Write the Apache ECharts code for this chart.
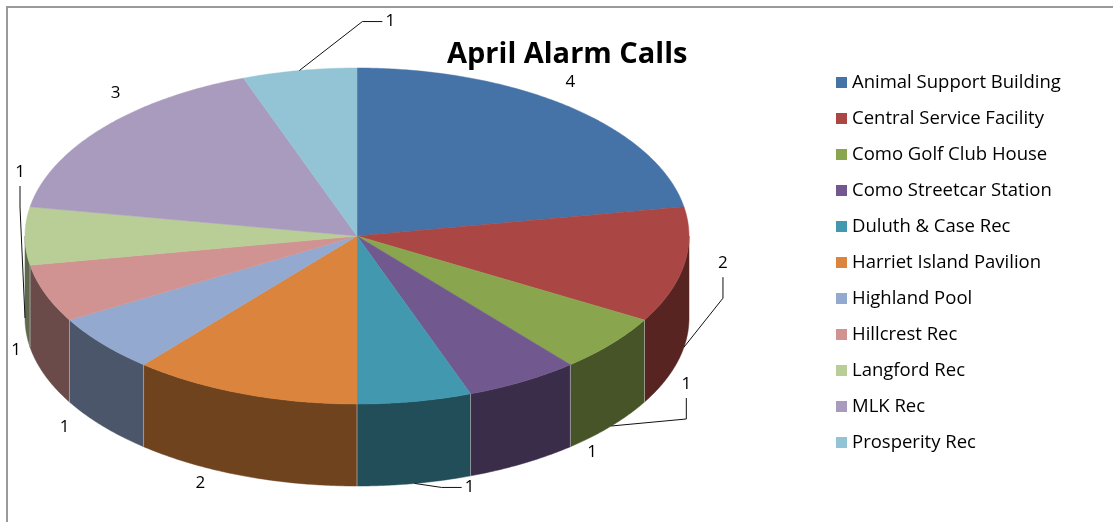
<!DOCTYPE html>
<html>
<head>
<meta charset="utf-8">
<title>April Alarm Calls</title>
<script src="https://cdn.jsdelivr.net/npm/echarts@6/dist/echarts.min.js"></script>
<style>
html, body { margin: 0; padding: 0; background: #fff; }
#frame { position: absolute; left: 6px; top: 6px; width: 1300px; height: 700px;
         border-left: 2px solid #9a9a9a; border-top: 2px solid #9a9a9a; }
#chart { position: absolute; left: 0; top: 0; width: 1113px; height: 522px; }
</style>
</head>
<body>
<div id="frame"></div>
<div id="chart"></div>
<script>
var categories = ['Animal Support Building', 'Central Service Facility', 'Como Golf Club House',
  'Como Streetcar Station', 'Duluth & Case Rec', 'Harriet Island Pavilion', 'Highland Pool',
  'Hillcrest Rec', 'Langford Rec', 'MLK Rec', 'Prosperity Rec'];
var calls = [4, 2, 1, 1, 1, 2, 1, 1, 1, 3, 1];

// styles
var colors = ['#4572A7', '#AA4643', '#89A54E', '#71588F', '#4198AF', '#DB843D',
  '#93A9CF', '#D19392', '#B9CD96', '#A99BBD', '#92C4D6'];
var FONT = '"Open Sans", Lato, sans-serif';

// 3D pie layout in px: centre, radii of the top ellipse, thickness
var cx = 357, cy = 236, rx = 332, ry = 168, depth = 82;
// label offset from slice edge point and leader style ('v' vertical, 'h' horizontal)
var labelOffset = [[0, -25, ''], [39, -84, 'v'], [75, -42, 'v'], [69, -11, ''], [55, 4, 'h'],
  [-43, 7, ''], [-38, 1, ''], [-29, -25, ''], [-5, -146, 'v'], [13, -35, ''], [91, -49, 'h']];

var total = calls.reduce(function (a, b) { return a + b; }, 0);
var starts = [];
calls.reduce(function (acc, v, i) { starts[i] = acc; return acc + v; }, 0);

function pt(deg, dy) {
  var a = deg * Math.PI / 180;
  return [cx + rx * Math.sin(a), cy - ry * Math.cos(a) + (dy || 0)];
}
function arc(a0, a1, dy) {
  var n = Math.max(2, Math.ceil(Math.abs(a1 - a0) / 0.5));
  var out = [];
  for (var k = 0; k <= n; k++) out.push(pt(a0 + (a1 - a0) * k / n, dy));
  return out;
}
function shade(hex, f) {
  var c = parseInt(hex.slice(1), 16);
  var r = Math.round((c >> 16 & 255) * f), g = Math.round((c >> 8 & 255) * f), b = Math.round((c & 255) * f);
  return 'rgb(' + r + ',' + g + ',' + b + ')';
}

function makeRender(i) {
  return function (params, api) {
    var v = api.value(0);
    var a0 = starts[i] / total * 360;
    var a1 = a0 + v / total * 360;
    var kids = [];
    // outer wall, only the front half shows
    var w0 = Math.max(a0, 90), w1 = Math.min(a1, 270);
    if (w1 > w0) {
      kids.push({ type: 'polygon', shape: { points: arc(w0, w1, 0).concat(arc(w1, w0, depth)) },
        style: { fill: shade(colors[i], 0.51), stroke: shade(colors[i], 0.51), lineWidth: 0.5 } });
      if (a0 > 90 && a0 < 270) {
        var p = pt(a0, 0);
        kids.push({ type: 'line', shape: { x1: p[0], y1: p[1], x2: p[0], y2: p[1] + depth },
          style: { stroke: 'rgba(200,200,200,0.6)', lineWidth: 1 } });
      }
    }
    // top face
    kids.push({ type: 'polygon', shape: { points: [[cx, cy]].concat(arc(a0, a1, 0)) },
      style: { fill: colors[i], stroke: colors[i], lineWidth: 0.5 } });
    // data label
    var mid = (a0 + a1) / 2;
    var anc = pt(mid, Math.cos(mid * Math.PI / 180) < 0 ? depth : 0);
    var off = labelOffset[i];
    var lx = anc[0] + off[0], ly = anc[1] + off[1];
    if (off[2] === 'v') {
      kids.push({ type: 'polyline', shape: { points: [anc, [lx, ly + 35], [lx, ly + 14]] },
        style: { stroke: '#111', lineWidth: 1, fill: null }, z2: 20 });
    } else if (off[2] === 'h') {
      kids.push({ type: 'polyline', shape: { points: [anc, [lx - 28, ly], [lx - 8, ly]] },
        style: { stroke: '#111', lineWidth: 1, fill: null }, z2: 20 });
    }
    kids.push({ type: 'text', z2: 30, style: { text: String(v), x: lx, y: ly, align: 'center',
      verticalAlign: 'middle', fill: '#000', fontSize: 17, fontFamily: FONT } });
    return { type: 'group', children: kids };
  };
}

var chart = echarts.init(document.getElementById('chart'));
chart.setOption({
  backgroundColor: 'transparent',
  animation: false,
  title: {
    text: 'April Alarm Calls',
    left: 442, top: 35,
    textStyle: { fontFamily: FONT, fontSize: 29, fontWeight: 'bold', color: '#000' }
  },
  legend: {
    orient: 'vertical',
    left: 836, top: 73,
    padding: 0,
    icon: 'rect',
    itemWidth: 11, itemHeight: 11,
    itemGap: 17,
    textStyle: { fontFamily: FONT, fontSize: 18.5, lineHeight: 18, color: '#000' },
    data: categories
  },
  series: categories.map(function (name, i) {
    return {
      type: 'custom',
      name: name,
      coordinateSystem: 'none',
      itemStyle: { color: colors[i] },
      renderItem: makeRender(i),
      data: [[calls[i]]]
    };
  })
});
</script>
</body>
</html>
